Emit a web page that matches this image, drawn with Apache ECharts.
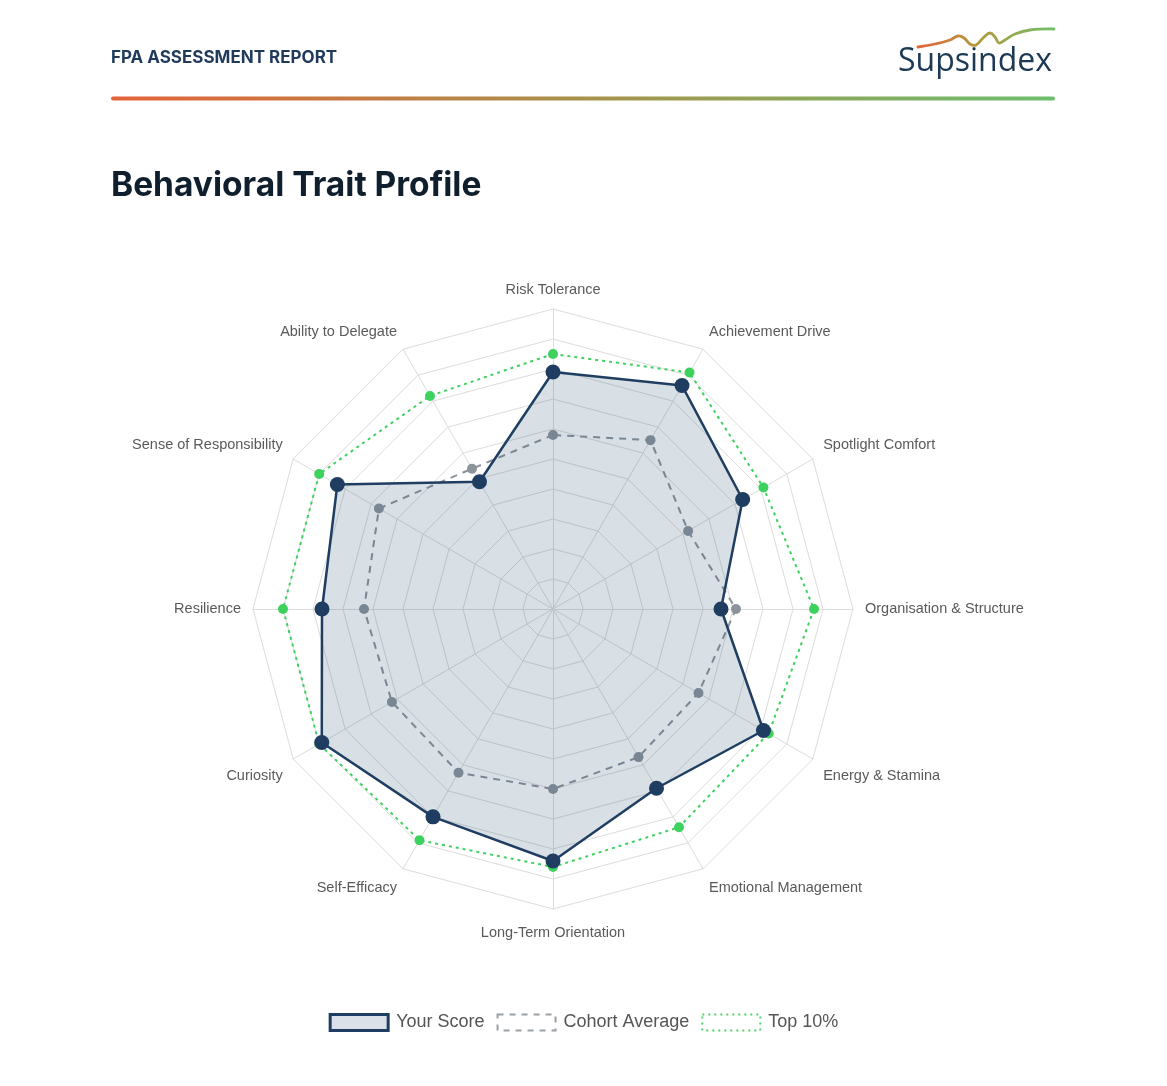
<!DOCTYPE html>
<html>
<head>
<meta charset="utf-8">
<script src="https://cdn.jsdelivr.net/npm/echarts@6/dist/echarts.min.js"></script>
<style>
html,body{margin:0;padding:0;background:#fff;}
#chart{width:1167px;height:1086px;}
</style>
</head>
<body>
<div id="chart"></div>
<script>
const traits = ['Risk Tolerance','Ability to Delegate','Sense of Responsibility','Resilience','Curiosity','Self-Efficacy','Long-Term Orientation','Emotional Management','Energy & Stamina','Organisation & Structure','Spotlight Comfort','Achievement Drive'];
const yourScore = [79, 49, 83, 77, 89, 80, 84, 69, 81, 56, 73, 86];
const cohortAverage = [58, 54, 67, 63, 62, 63, 60, 57, 56, 61, 52, 65];
const top10 = [85, 82, 90, 90, 90, 89, 86, 84, 83, 87, 81, 91];
const seriesNames = ['Your Score','Cohort Average','Top 10%'];
const scaleMax = 100;

// label style per axis position (index -> rich style key)
const labelStyleKey = ['n','u14','u16','n','d21','d17','d4','d17','d21','n','u16','u14'];

const chart = echarts.init(document.getElementById('chart'));
const navy = '#1f3d61';
const lblFont = {fontSize: 14.5, color: '#5a5a5a', fontFamily: '"Liberation Sans", Arial, sans-serif'};
const option = {
  backgroundColor: '#ffffff',
  animation: false,
  graphic: [
    {type:'text', left:111, top:49, style:{text:'FPA ASSESSMENT REPORT', font:'bold 17px Inter, "Noto Sans", sans-serif', fill:'#1f3a5a'}},
    {type:'text', left:898, top:46, style:{text:'Supsindex', font:'32px "Open Sans", "Noto Sans", sans-serif', fill:'#1d3a55'}},
    {type:'polyline', shape:{smooth:0.4, points:[[918,47],[935,44],[950,40],[958,36],[964,38],[970,44],[976,45],[984,37],[990,33],[995,37],[999,43],[1005,40],[1015,34],[1030,30],[1054,29]]},
      style:{lineWidth:2.8, fill:null, lineCap:'round', stroke:new echarts.graphic.LinearGradient(0,0,1,0,[{offset:0,color:'#e3633a'},{offset:0.45,color:'#b39a3c'},{offset:1,color:'#6cc06c'}])}},
    {type:'rect', shape:{x:111, y:96.5, width:944, height:4, r:2},
      style:{fill:new echarts.graphic.LinearGradient(0,0,1,0,[{offset:0,color:'#e4623a'},{offset:0.5,color:'#a8924a'},{offset:1,color:'#6cbf6d'}])}},
    {type:'text', left:111, top:169, style:{text:'Behavioral Trait Profile', font:'bold 33.5px Inter, "Noto Sans", sans-serif', fill:'#0f1f2e'}}
  ],
  legend: {
    bottom: 49,
    left: 'center',
    icon: 'rect',
    itemWidth: 58,
    itemHeight: 16,
    itemGap: 12,
    textStyle: {fontSize: 18, color: '#555', fontFamily: '"Liberation Sans", Arial, sans-serif', padding: [0,0,0,3]},
    data: [
      {name: seriesNames[0], itemStyle:{color:'#dbe1e8', borderColor:navy, borderWidth:3, borderType:'solid'}},
      {name: seriesNames[1], itemStyle:{color:'#ffffff', borderColor:'#9aa0a6', borderWidth:2, borderType:[6,6]}},
      {name: seriesNames[2], itemStyle:{color:'#ffffff', borderColor:'#4fd36a', borderWidth:2, borderType:[2,4]}}
    ]
  },
  radar: {
    center: [553, 609],
    radius: 300,
    startAngle: 90,
    splitNumber: 10,
    shape: 'polygon',
    indicator: traits.map(t => ({name: t, max: scaleMax, min: 0})),
    axisName: Object.assign({}, lblFont, {
      formatter: function (name) {
        const i = traits.indexOf(name);
        return '{' + labelStyleKey[i] + '|' + name + '}';
      },
      rich: {
        n:   Object.assign({}, lblFont),
        u14: Object.assign({padding:[0,0,14,0]}, lblFont),
        u16: Object.assign({padding:[0,0,16,0]}, lblFont),
        d4:  Object.assign({padding:[4,0,0,0]}, lblFont),
        d17: Object.assign({padding:[17,0,0,0]}, lblFont),
        d21: Object.assign({padding:[21,0,0,0]}, lblFont)
      }
    }),
    nameGap: 12,
    splitLine: {lineStyle: {color: '#dcdcdc', width: 1}},
    splitArea: {show: false},
    axisLine: {lineStyle: {color: '#dcdcdc', width: 1}}
  },
  series: [
    {
      type: 'radar', name: seriesNames[2], z: 2,
      symbol: 'circle', symbolSize: 10,
      lineStyle: {color: '#3dd15e', width: 2, type: [3,4]},
      itemStyle: {color: '#3dd15e'},
      data: [{value: top10, name: seriesNames[2]}]
    },
    {
      type: 'radar', name: seriesNames[1], z: 3,
      symbol: 'circle', symbolSize: 10,
      lineStyle: {color: '#8c939b', width: 2, type: [7,6]},
      itemStyle: {color: '#8c939b'},
      data: [{value: cohortAverage, name: seriesNames[1]}]
    },
    {
      type: 'radar', name: seriesNames[0], z: 4,
      symbol: 'circle', symbolSize: 15,
      lineStyle: {color: navy, width: 2.5},
      itemStyle: {color: navy},
      areaStyle: {color: 'rgba(40,75,110,0.18)', opacity: 1},
      data: [{value: yourScore, name: seriesNames[0]}]
    }
  ]
};
chart.setOption(option);
</script>
</body>
</html>
